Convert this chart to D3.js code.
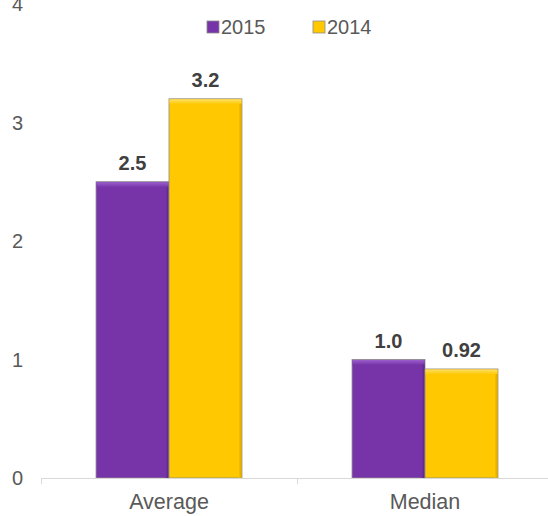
<!DOCTYPE html>
<html>
<head>
<meta charset="utf-8">
<script src="https://cdn.jsdelivr.net/npm/d3@7"></script>
<style>
  body { margin: 0; background: #fff; }
  text { font-family: "Liberation Sans", Arial, sans-serif; }
</style>
</head>
<body>
<svg width="548" height="516"></svg>
<script>
const categories = ["Average", "Median"]
const years = ["2015", "2014"]
const values2015 = [2.5, 1.0]
const values2014 = [3.2, 0.92]
const labels2015 = ["2.5", "1.0"]
const labels2014 = ["3.2", "0.92"]
const yTicks = [0, 1, 2, 3, 4]
const colors = ["#7634a8", "#ffc800"]

const svg = d3.select("svg")
const x0 = 41, x1 = 553, yBottom = 478, yTop = 4

const data = categories.map((c, i) => ({
  cat: c,
  vals: [
    {year: years[0], v: values2015[i], label: labels2015[i], k: 0},
    {year: years[1], v: values2014[i], label: labels2014[i], k: 1}
  ]
}))

const xScale = d3.scaleBand().domain(categories).range([x0, x1]).paddingInner(0.43).paddingOuter(0.215)
const xSub = d3.scaleBand().domain(years).range([0, xScale.bandwidth()])
const yScale = d3.scaleLinear().domain([0, 4]).range([yBottom, yTop])

// gradients for bevel look
const defs = svg.append("defs")
const grads = [["#9b5fcc", "#7634a8", "#5a2585"], ["#ffe066", "#ffc800", "#d9a600"]]
grads.forEach((g, i) => {
  const lg = defs.append("linearGradient").attr("id", "top" + i).attr("x1", 0).attr("y1", 0).attr("x2", 0).attr("y2", 1)
  lg.append("stop").attr("offset", "0%").attr("stop-color", g[0])
  lg.append("stop").attr("offset", "100%").attr("stop-color", g[1])
  const sg = defs.append("linearGradient").attr("id", "side" + i).attr("x1", 0).attr("y1", 0).attr("x2", 1).attr("y2", 0)
  sg.append("stop").attr("offset", "0%").attr("stop-color", g[1])
  sg.append("stop").attr("offset", "100%").attr("stop-color", g[2])
})

// y tick labels
svg.append("g").selectAll("text")
  .data(yTicks)
  .enter()
  .append("text")
  .attr("x", 23)
  .attr("y", d => yScale(d))
  .attr("dy", "0.35em")
  .attr("text-anchor", "end")
  .attr("font-size", 20)
  .attr("fill", "#595959")
  .text(d => d)

// bars
const groups = svg.append("g").selectAll("g")
  .data(data)
  .enter()
  .append("g")
  .attr("transform", d => `translate(${xScale(d.cat)},0)`)

const bars = groups.selectAll("g.bar")
  .data(d => d.vals)
  .enter()
  .append("g")
  .attr("class", "bar")

bars.append("rect")
  .attr("x", d => xSub(d.year))
  .attr("y", d => yScale(d.v))
  .attr("width", xSub.bandwidth())
  .attr("height", d => yBottom - yScale(d.v))
  .attr("fill", d => colors[d.k])
  .attr("stroke", "#8c8c8c")
  .attr("stroke-width", 0.8)

// top bevel
bars.append("rect")
  .attr("x", d => xSub(d.year) + 0.5)
  .attr("y", d => yScale(d.v) + 0.5)
  .attr("width", xSub.bandwidth() - 1)
  .attr("height", 5)
  .attr("fill", d => `url(#top${d.k})`)

// right bevel
bars.append("rect")
  .attr("x", d => xSub(d.year) + xSub.bandwidth() - 3.5)
  .attr("y", d => yScale(d.v) + 5)
  .attr("width", 3)
  .attr("height", d => yBottom - yScale(d.v) - 5)
  .attr("fill", d => `url(#side${d.k})`)

// value labels
bars.append("text")
  .attr("x", d => xSub(d.year) + xSub.bandwidth() / 2)
  .attr("y", d => yScale(d.v) - 12)
  .attr("text-anchor", "middle")
  .attr("font-size", 20)
  .attr("font-weight", "bold")
  .attr("fill", "#404040")
  .text(d => d.label)

// x axis
const xAxis = d3.axisBottom(xScale).tickSize(0).tickPadding(16)
const xg = svg.append("g").attr("transform", `translate(0,${yBottom})`).call(xAxis)
xg.select(".domain").remove()
xg.selectAll("text").attr("font-size", 21.5).attr("fill", "#595959").attr("font-family", "Liberation Sans, Arial, sans-serif")
xg.append("line").attr("x1", x0).attr("x2", 548).attr("y1", 0.5).attr("y2", 0.5).attr("stroke", "#d9d9d9")
xg.selectAll("line.tk")
  .data([x0, x0 + (x1 - x0) / 2])
  .enter()
  .append("line")
  .attr("class", "tk")
  .attr("x1", d => d + 0.5).attr("x2", d => d + 0.5)
  .attr("y1", 0).attr("y2", 6)
  .attr("stroke", "#d9d9d9")

// legend
const legend = svg.append("g")
const legX = [207, 313]
years.forEach((y, i) => {
  legend.append("rect")
    .attr("x", legX[i]).attr("y", 21).attr("width", 12).attr("height", 12)
    .attr("fill", colors[i]).attr("stroke", "#8c8c8c").attr("stroke-width", 0.8)
  legend.append("text")
    .attr("x", legX[i] + 14).attr("y", 34)
    .attr("font-size", 20).attr("fill", "#595959")
    .text(y)
})
</script>
</body>
</html>
